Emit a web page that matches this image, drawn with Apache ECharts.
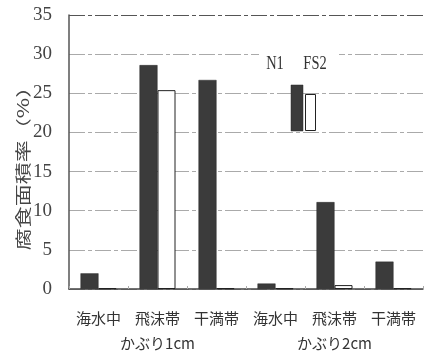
<!DOCTYPE html>
<html>
<head>
<meta charset="utf-8">
<script src="https://cdn.jsdelivr.net/npm/echarts@6/dist/echarts.min.js"></script>
<style>
  html, body { margin: 0; padding: 0; background: #fff; }
  #chart { width: 424px; height: 356px; }
</style>
</head>
<body>
<div id="chart"></div>
<script>
  // カテゴリ（かぶり1cm / 2cm）
  const categories = ["海水中", "飛沫帯\nかぶり1cm", "干満帯", "海水中", "飛沫帯\nかぶり2cm", "干満帯"]
  const n1Data = [2.0, 28.6, 26.7, 0.7, 11.1, 3.5]
  const fs2Data = [0.1, 25.4, 0.1, 0.1, 0.5, 0.1]
  const yTicks = { min: 0, max: 35, interval: 5 }

  const serif = "'Liberation Serif', 'DejaVu Serif', serif"
  const cjk = "'Noto Sans CJK JP', sans-serif"

  const chart = echarts.init(document.getElementById("chart"))
  const option = {
    backgroundColor: "#fff",
    animation: false,
    grid: { left: 69, right: 1, top: 15, bottom: 63 },
    xAxis: {
      type: "category",
      data: categories,
      axisLine: { lineStyle: { color: "#444", width: 1.5 } },
      axisTick: { show: true, inside: true, length: 3, lineStyle: { color: "#aaa" } },
      axisLabel: {
        interval: 0,
        margin: 17,
        color: "#333",
        fontFamily: cjk,
        fontSize: 15,
        lineHeight: 25,
      },
    },
    yAxis: {
      type: "value",
      min: yTicks.min,
      max: yTicks.max,
      interval: yTicks.interval,
      axisLine: { show: true, lineStyle: { color: "#555", width: 1.5 } },
      axisTick: { show: false },
      axisLabel: {
        margin: 17,
        color: "#444",
        fontFamily: serif,
        fontSize: 19,
      },
      splitLine: {
        show: true,
        lineStyle: {
          color: ["#aaa", "#aaa", "#aaa", "#aaa", "#aaa", "#aaa", "#aaa", "#555"],
          type: [16, 3, 4, 3],
          width: 1,
        },
      },
    },
    series: [
      {
        name: "N1",
        type: "bar",
        data: n1Data,
        barWidth: 18,
        barGap: "0%",
        itemStyle: { color: "#3b3b3b", borderColor: "#2a2a2a", borderWidth: 0.5 },
      },
      {
        name: "FS2",
        type: "bar",
        data: fs2Data,
        barWidth: 18,
        itemStyle: { color: "#fff", borderColor: "#222", borderWidth: 1 },
      },
    ],
    graphic: [
      // 縦軸タイトル（横方向に少し潰す）
      {
        type: "text",
        x: 23,
        y: 163,
        rotation: Math.PI / 2,
        scaleY: 0.7,
        z: 100,
        style: {
          text: "腐食面積率（%）",
          fill: "#444",
          font: "22px " + cjk,
          align: "center",
          verticalAlign: "middle",
        },
      },
      // 凡例
      {
        type: "rect",
        z: 100,
        shape: { x: 259, y: 50, width: 80, height: 20 },
        style: { fill: "#fff" },
      },
      {
        type: "text",
        x: 275,
        y: 64,
        scaleX: 0.76,
        z: 101,
        style: { text: "N1", fill: "#333", font: "19px " + serif, align: "center", verticalAlign: "middle" },
      },
      {
        type: "text",
        x: 315,
        y: 64,
        scaleX: 0.76,
        z: 101,
        style: { text: "FS2", fill: "#333", font: "19px " + serif, align: "center", verticalAlign: "middle" },
      },
      {
        type: "rect",
        z: 101,
        shape: { x: 291, y: 85, width: 12, height: 46 },
        style: { fill: "#3b3b3b", stroke: "#2a2a2a", lineWidth: 0.5 },
      },
      {
        type: "rect",
        z: 101,
        shape: { x: 305.5, y: 94.5, width: 10, height: 36 },
        style: { fill: "#fff", stroke: "#222", lineWidth: 1 },
      },
    ],
  }
  chart.setOption(option)
</script>
</body>
</html>
